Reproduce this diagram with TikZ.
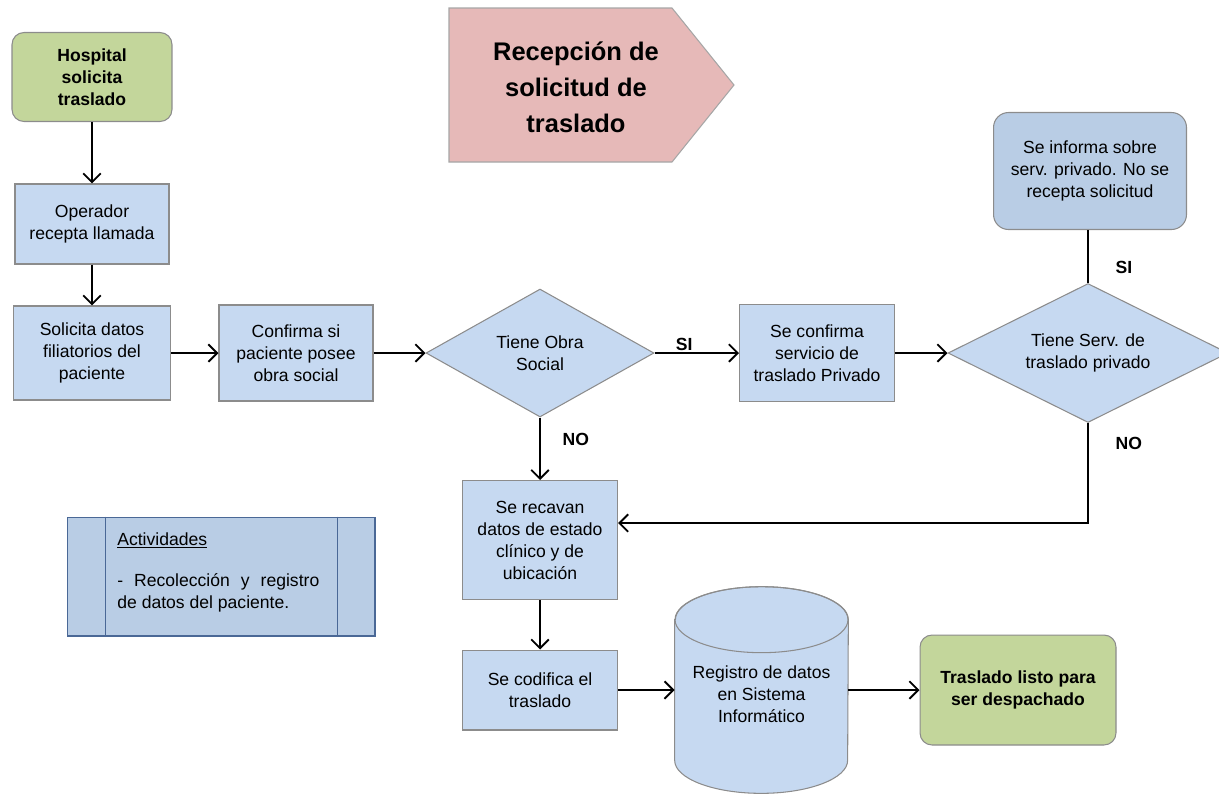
\documentclass[tikz,border=0pt]{standalone}
\usepackage{fontspec}
\setmainfont{Liberation Sans}
\usetikzlibrary{positioning, shapes.geometric, arrows.meta, backgrounds}

\definecolor{azulcaja}{HTML}{C6D9F1}
\definecolor{azulinfo}{HTML}{B9CDE5}
\definecolor{verdecaja}{HTML}{C3D69B}
\definecolor{rosatit}{HTML}{E6B9B8}
\definecolor{bordegris}{HTML}{8C8C8C}
\definecolor{bordeazul}{HTML}{4A6896}

\begin{document}
\begin{tikzpicture}[
    x=0.02cm, y=-0.02cm,
    >={Straight Barb[length=5pt, width=10pt]},
    font=\fontsize{10}{12.5}\selectfont,
    proceso/.style={draw=bordegris, fill=azulcaja, align=center, line width=0.6pt},
    inicio/.style={draw=bordegris, fill=verdecaja, rounded corners=0.24cm, align=center, line width=0.6pt, font=\fontsize{10}{12.5}\selectfont\bfseries},
    decision/.style={draw=bordegris, fill=azulcaja, diamond, align=center, inner sep=1pt, line width=0.6pt},
    etiqueta/.style={font=\fontsize{10}{12}\selectfont\bfseries, inner sep=1pt},
    thick/.style={line width=1.1pt}
]
\useasboundingbox (0,0) rectangle (1219,796);

% Titulo
\filldraw[draw=gray!70, fill=rosatit, line width=0.6pt] (449,8) -- (672,8) -- (734,85) -- (672,162) -- (449,162) -- cycle;
\node[font=\fontsize{14.5}{20.5}\selectfont\bfseries, align=center] (titulo) at (576,87) {Recepción de\\solicitud de\\traslado};

% Columna izquierda
\node[inicio, minimum width=3.2cm, minimum height=1.78cm] (hosp) at (92,77) {Hospital\\solicita\\traslado};
\node[proceso, minimum width=3.08cm, minimum height=1.6cm] (oper) at (92,224) {Operador\\recepta llamada};
\node[proceso, minimum width=3.14cm, minimum height=1.88cm] (solic) at (92,353) {Solicita datos\\filiatorios del\\paciente};

% Fila central
\node[proceso, minimum width=3.08cm, minimum height=1.92cm] (conf) at (296,353) {Confirma si\\paciente posee\\obra social};
\node[decision, aspect=1.8, minimum width=4.56cm, minimum height=2.56cm] (obra) at (540,353) {Tiene Obra\\Social};
\node[proceso, minimum width=3.1cm, minimum height=1.94cm] (priv) at (817,353) {Se confirma\\servicio de\\traslado Privado};
\node[decision, aspect=2, minimum width=5.6cm, minimum height=2.78cm] (servpriv) at (1088,353) {Tiene Serv. de\\traslado privado};
\node[proceso, fill=azulinfo, rounded corners=0.3cm, minimum width=3.86cm, minimum height=2.34cm] (informa) at (1090,171) {Se informa sobre\\serv. privado. No se\\recepta solicitud};

% Parte inferior
\node[proceso, minimum width=3.1cm, minimum height=2.38cm] (recavan) at (540,540) {Se recavan\\datos de estado\\clínico y de\\ubicación};
\node[proceso, minimum width=3.1cm, minimum height=1.6cm] (codifica) at (540,690) {Se codifica el\\traslado};
\node[align=center, minimum width=3.46cm, minimum height=4.12cm, inner sep=0] (registro) at (761.5,690) {\\Registro de datos\\en Sistema\\Informático};
\node[inicio, minimum width=3.92cm, minimum height=2.2cm] (listo) at (1018,690) {Traslado listo para\\ser despachado};

% Cilindro detras del texto
\begin{scope}[on background layer]
\filldraw[draw=bordegris, fill=azulcaja, line width=0.6pt] ([yshift=-0.66cm]registro.north west) -- ([yshift=0.66cm]registro.south west)
    arc[start angle=180, end angle=360, x radius=1.73cm, y radius=0.66cm] -- ([yshift=-0.66cm]registro.north east)
    arc[start angle=0, end angle=180, x radius=1.73cm, y radius=0.66cm] -- cycle;
\draw[draw=bordegris, line width=0.6pt] ([yshift=-0.66cm]registro.north) ellipse [x radius=1.73cm, y radius=0.66cm];
\end{scope}

% Actividades
\node[draw=bordeazul, fill=azulinfo, line width=0.6pt, minimum width=6.16cm, minimum height=2.38cm] (activ) at (221,576.5) {};
\draw[bordeazul, line width=0.6pt] ([xshift=0.78cm]activ.north west) -- ([xshift=0.78cm]activ.south west);
\draw[bordeazul, line width=0.6pt] ([xshift=-0.76cm]activ.north east) -- ([xshift=-0.76cm]activ.south east);
\node[anchor=north west, text width=4.04cm, align=justify, inner sep=0] (activtxt) at (117,532) {\underline{Actividades}\par\vspace{11pt}- Recolección y registro\linebreak de datos del paciente.};

% Flechas
\draw[->, thick] (hosp) -- (oper);
\draw[->, thick] (oper) -- (solic);
\draw[->, thick] (solic) -- (conf);
\draw[->, thick] (conf) -- (obra);
\draw[->, thick] (obra) -- node[etiqueta, above, pos=0.35] {SI} (priv);
\draw[->, thick] (priv) -- (servpriv);
\draw[thick] (servpriv.north) -- node[etiqueta, right=0.5cm, pos=0.3] {SI} (servpriv.north |- informa.south);
\draw[->, thick] (obra) -- node[etiqueta, right=0.4cm, pos=0.35] {NO} (recavan);
\draw[->, thick] (servpriv.south) |- node[etiqueta, right=0.5cm, pos=0.1] {NO} ([yshift=0.34cm]recavan.east);
\draw[->, thick] (recavan) -- (codifica);
\draw[->, thick] (codifica) -- (registro);
\draw[->, thick] (registro) -- (listo);

\end{tikzpicture}
\end{document}
